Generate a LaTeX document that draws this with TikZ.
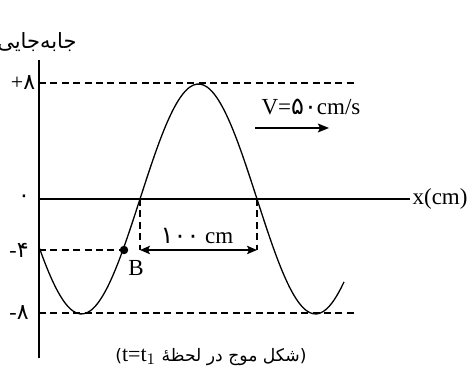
\documentclass[tikz,border=0pt]{standalone}
\usepackage{fontspec}
\setmainfont{Liberation Serif}
\newfontfamily\fafont[Script=Arabic]{DejaVu Sans}
\TeXXeTstate=1
\usetikzlibrary{arrows.meta}
\usetikzlibrary{positioning}

\tikzset{
  guide/.style={dashed, dash pattern=on 3.5pt off 2.2pt, line width=0.55pt},
  axis/.style={line width=0.6pt},
  wave/.style={line width=0.65pt},
  measure/.style={line width=0.65pt, {Stealth[length=5pt,width=4.2pt,inset=1pt]}-{Stealth[length=5pt,width=4.2pt,inset=1pt]}},
  speed/.style={line width=0.75pt, -{Stealth[length=5.5pt,width=4.4pt,inset=1pt]}},
  tick/.style={inner sep=0pt, font=\fontsize{11}{12}\selectfont},
  dot/.style={circle, fill, inner sep=1.5pt}
}

\begin{document}
\begin{tikzpicture}[x=0.5pt, y=-0.5pt, font=\fontsize{11.5}{13}\selectfont]
    \useasboundingbox (0,0) rectangle (467,383);

    % Dashed levels +8, -8
    \draw[guide] (39,83) -- (355,83);
    \draw[guide] (39,313) -- (355,313);

    % Draw axes
    \draw[axis] (39,60) -- (39,358);
    \draw[axis] (39,199) -- (410,199) node[right, inner sep=1pt] (xlabel) {x(cm)};
    \node[font=\fafont\fontsize{10.5}{12}\selectfont] (ylabel) at (37,42) {\beginR جابه‌جایی\endR};

    % Tick labels
    \foreach \ypos/\sgn/\dig/\xpos/\nm in {83/+/۸/23/p8, 199//۰/24/z0, 250/-/۴/19/m4, 313/-/۸/19/m8} {
      \node[tick] (tick\nm) at (\xpos,\ypos) {\sgn{\fafont\dig}};
    }

    % The wave
    \draw[wave] plot[domain=39:344, samples=90, smooth] (\x, {199 - 115*sin((\x-140)/117*180)});

    % Point B on the -4 level
    \node[dot] (B) at (124,250) {};
    \node (Blabel) at (136,268) {B};
    \draw[guide] (39,250) -- (B);

    % Half wavelength
    \coordinate (cut1) at (140,199);
    \coordinate (cut2) at (257,199);
    \coordinate (foot1) at (140,250);
    \coordinate (foot2) at (257,250);
    \draw[guide] (cut1) -- (foot1);
    \draw[guide] (cut2) -- (foot2);
    \draw[measure] (foot1) -- (foot2);
    \node (half) at (197,236) {{\fafont\fontsize{12}{13}\selectfont ۱۰۰} cm};

    % Speed of the wave
    \node (vlabel) at (311,107) {V={\fafont\fontsize{12}{13}\selectfont ۵۰}cm/s};
    \coordinate (vtail) at (255,128);
    \coordinate (vhead) at (329,128);
    \draw[speed] (vtail) -- (vhead);

    % Caption
    \node[font=\fafont\fontsize{8.6}{10}\selectfont] (caption) at (211,357)
      {\beginR(شکل موج در لحظهٔ \beginL{\rmfamily\fontsize{11}{12}\selectfont t=t$_1$}\endL)\endR};
\end{tikzpicture}
\end{document}
